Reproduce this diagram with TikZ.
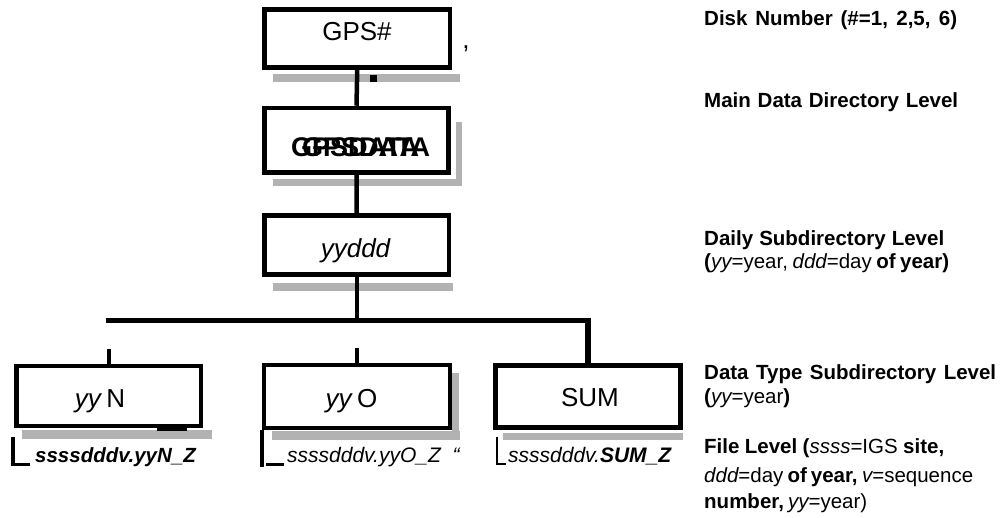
\documentclass[tikz,border=0pt]{standalone}
\usepackage{fontspec}
\setmainfont{Liberation Sans}
\newcommand\mvar[1]{{\mdseries\itshape #1}}
\newcommand\mreg[1]{{\mdseries #1}}
\begin{document}
\begin{tikzpicture}[x=1pt,y=-1pt,
  box/.style={draw, line width=4.5pt, inner sep=0pt, fill=white},
  link/.style={line width=4.5pt},
  bus/.style={line width=5.5pt},
  shadow strip/.style={fill=black!30, draw=none},
  boxtext/.style={font=\fontsize{26}{30}\selectfont, inner sep=0pt, anchor=base},
  overprint/.style={font=\fontsize{27}{31}\selectfont\bfseries, inner sep=0pt, anchor=base west},
  note/.style={font=\fontsize{20.5}{24}\selectfont\bfseries, inner sep=0pt, anchor=base west},
  fname/.style={font=\fontsize{21}{25}\selectfont\itshape, inner sep=0pt, anchor=base west},
  tick/.style={line width=#1}]
\useasboundingbox (0,0) rectangle (1004,517);

% grey strips under the boxes
\fill[shadow strip] (273,74) rectangle (460,82);
\fill[black] (370,75) rectangle (377,82);
\fill[shadow strip] (273,179) rectangle (462,186);
\fill[shadow strip] (456,122) rectangle (462,186);
\fill[shadow strip] (273,283) rectangle (453,291);
\fill[shadow strip] (22,430) rectangle (212,439);
\fill[shadow strip] (272,431) rectangle (460,440);
\fill[shadow strip] (452,373) rectangle (459,440);
\fill[shadow strip] (503,433) rectangle (683,440);

% directory boxes
\node[box, minimum width=185.5pt, minimum height=58pt] (gps) at (357.25,38.5) {};
\node[box, minimum width=184pt, minimum height=64.5pt] (gpsdata) at (356.5,140.25) {};
\node[box, minimum width=184.5pt, minimum height=59pt] (yyddd) at (356.75,245) {};
\node[box, minimum width=184.5pt, minimum height=60pt] (yyn) at (108.75,396) {};
\node[box, minimum width=186pt, minimum height=63pt] (yyo) at (357,396.5) {};
\node[box, minimum width=185pt, minimum height=62pt] (sum) at (588,396.5) {};

% box labels
\node[boxtext] (gpst) at (357,40) {GPS\#};
\node[overprint] (gpsdatat1) at (291,156) {GPSDATA};
\node[overprint] (gpsdatat2) at (302,156) {GPSDATA};
\node[boxtext] (yydddt) at (355.5,257) {\itshape yyddd};
\node[boxtext] (yynt) at (100,407) {\textit{yy}\,N};
\node[boxtext] (yyot) at (351.5,407) {\textit{yy}\,O};
\node[boxtext] (sumt) at (590,406) {SUM};
\node[boxtext] (comma) at (466,48) {,};

% tree connectors
\draw[link] (gps.south) -- (gpsdata.north);
\draw[link] (gpsdata.south) -- (yyddd.north);
\coordinate (busL) at (106,320.5);
\draw[link] (yyddd.south) -- (yyddd.south |- busL);
\draw[bus] (busL) -| (sum.north);
\draw[link] (yyn.north) -- ++(0,-15);
\draw[link] (yyo.north) -- ++(0,-15);

% marks round the file names
\draw[tick=6pt] (157,427.5) -- (187,427.5);
\draw[tick=4pt] (12.5,437) -- (12.5,465);
\draw[tick=3pt] (11,464) -- (30,464);
\draw[tick=4.5pt] (yyo.south west) -- ++(0,37);
\draw[tick=3pt] (266,464) -- (284,464);
\draw[tick=2.5pt] (497,437) -- (497,465);
\draw[tick=2pt] (496,464) -- (506,464);

% file names
\node[fname, font=\fontsize{20.5}{24}\selectfont\bfseries\itshape] (fn1) at (35,462) {ssssdddv.yyN\_Z};
\node[fname] (fn2) at (287,462) {ssssdddv.yyO\_Z \ “};
\node[fname] (fn3) at (508,462) {ssssdddv.\textbf{SUM\_Z}};

% level notes
\node[note] (n1) at (704,25.5) {\makebox[253pt][s]{Disk Number (\#=1, 2,5, 6)}};
\node[note] (n2) at (704,107) {\makebox[254pt][s]{Main Data Directory Level}};
\node[note] (n3) at (704,245) {\makebox[240pt][s]{Daily Subdirectory Level}};
\node[note] (n3b) at (704,268) {\makebox[245pt][s]{(\mvar{yy}\mreg{=year,} \mvar{ddd}\mreg{=day} of year)}};
\node[note] (n4) at (704,379) {\makebox[292pt][s]{Data Type Subdirectory Level}};
\node[note] (n4b) at (704,403) {(\mvar{yy}\mreg{=year})};
\node[note] (n5) at (704,453) {\makebox[240pt][s]{File Level (\mvar{ssss}\mreg{=IGS} site,}};
\node[note] (n5b) at (704,482) {\makebox[269pt][s]{\mvar{ddd}\mreg{=day} of year, \mvar{v}\mreg{=sequence}}};
\node[note] (n5c) at (704,508) {\makebox[162pt][s]{number, \mvar{yy}\mreg{=year)}}};
\end{tikzpicture}
\end{document}
